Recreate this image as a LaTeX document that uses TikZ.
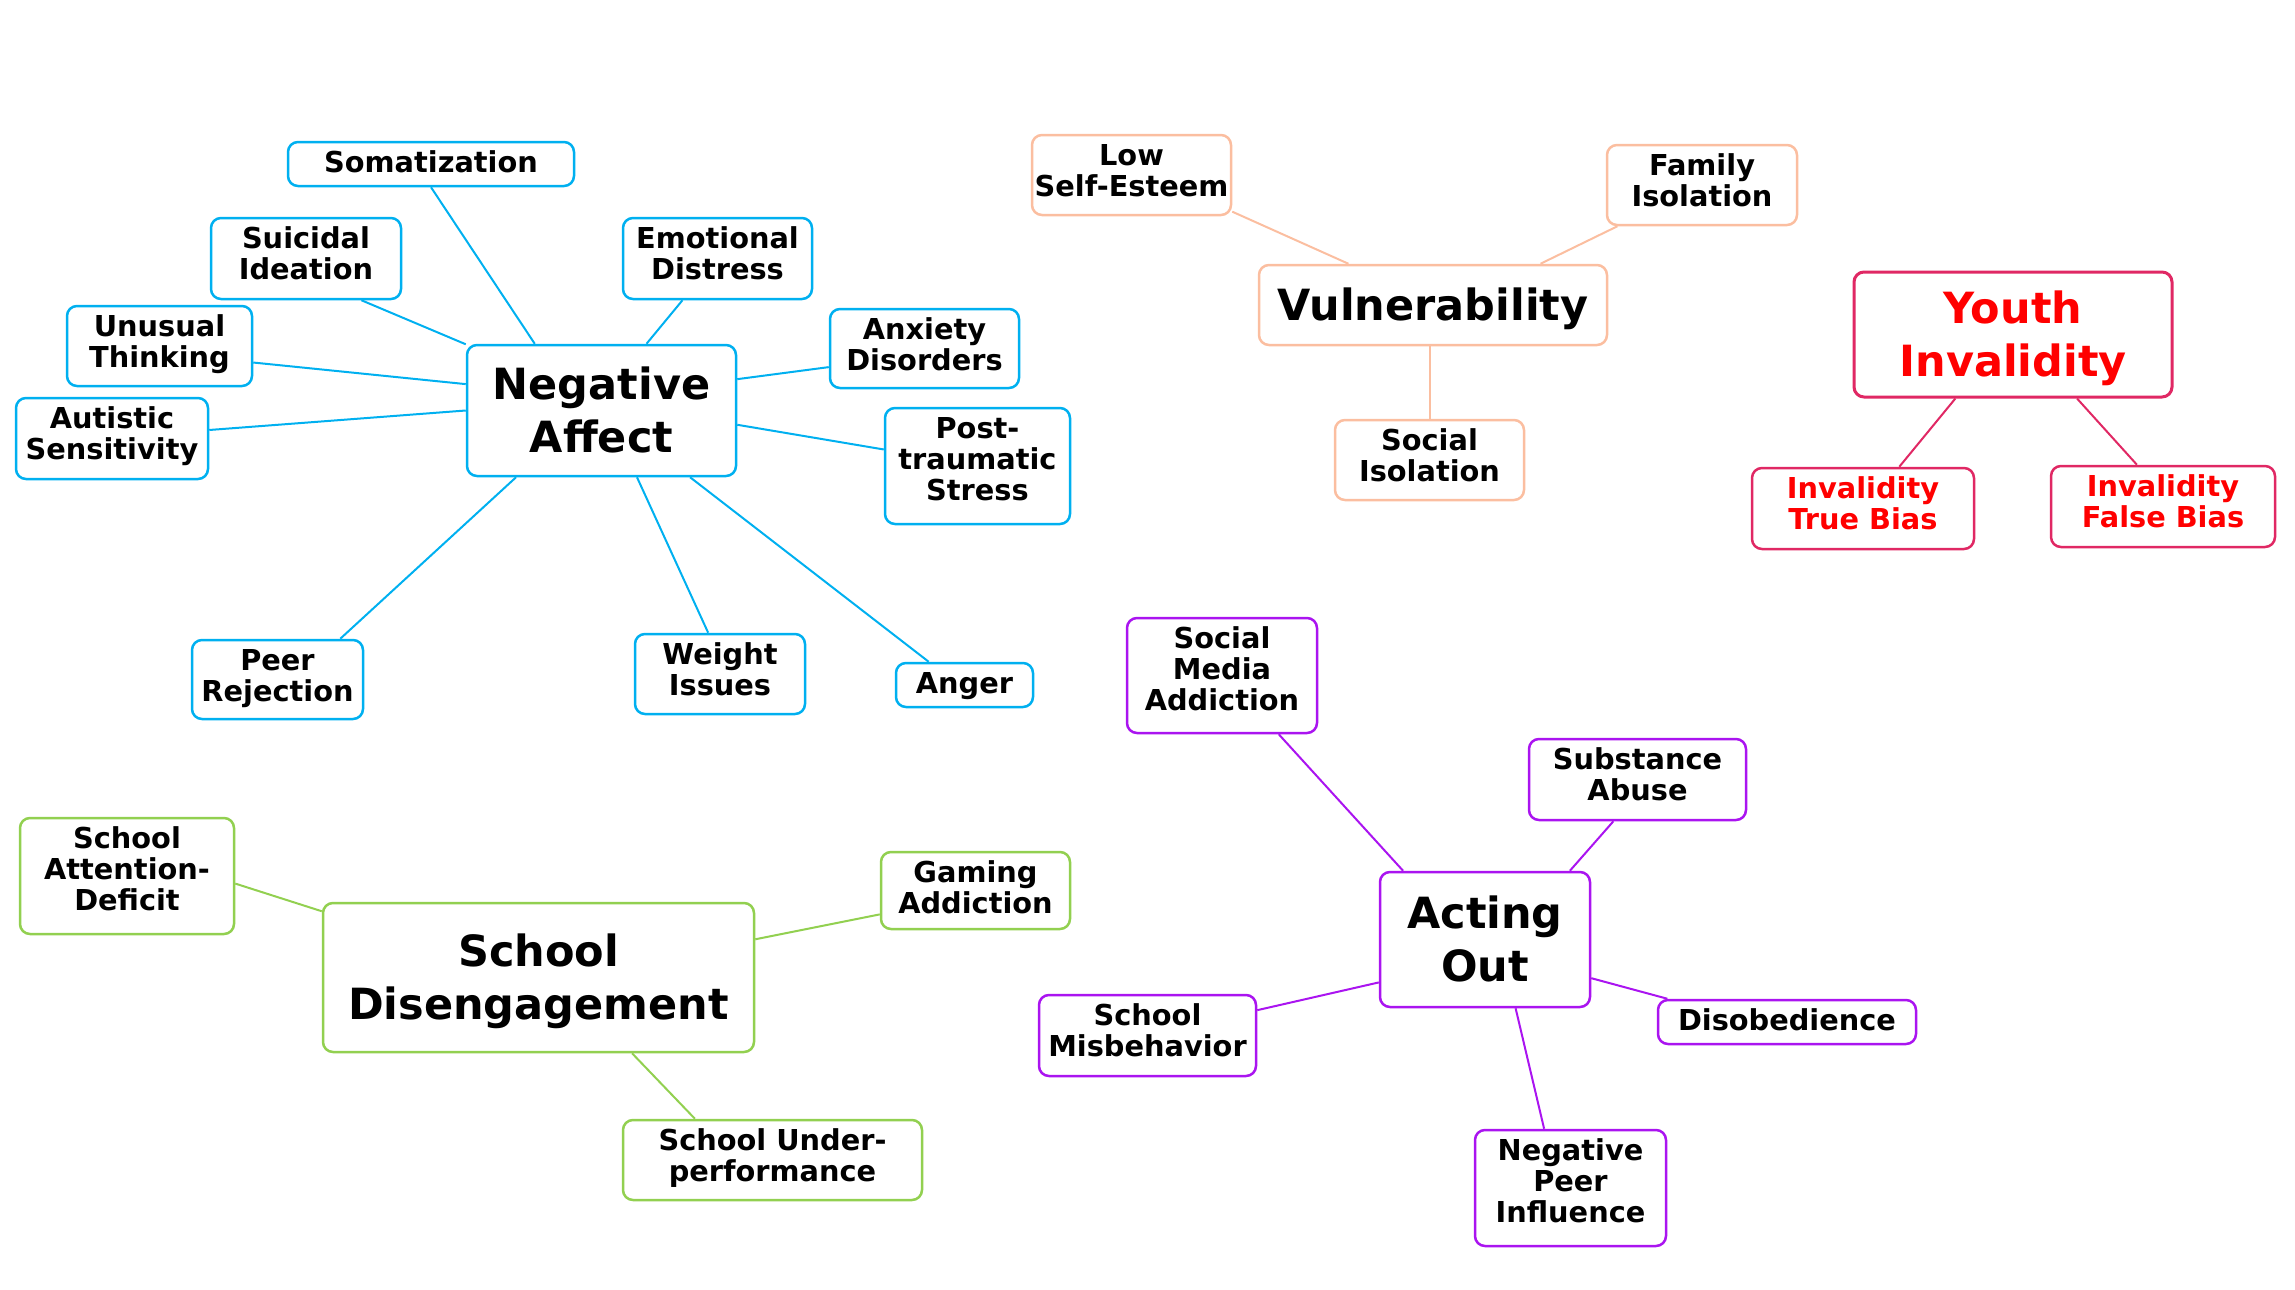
\documentclass[tikz,border=0pt]{standalone}
\usepackage{fontspec}
\setmainfont{DejaVu Sans}
\definecolor{blueC}{RGB}{0,176,240}
\definecolor{salC}{RGB}{251,190,160}
\definecolor{crimC}{RGB}{224,40,100}
\definecolor{redT}{RGB}{255,0,0}
\definecolor{purC}{RGB}{170,20,240}
\definecolor{greC}{RGB}{146,208,80}
% line struts: fixed first-line height and last-line depth
\newcommand{\topS}{\rule{0pt}{23pt}}
\newcommand{\botD}[1]{\rule[-#1pt]{0pt}{#1pt}}
\newcommand{\hubT}{\rule{0pt}{45pt}}
\newcommand{\hubB}{\rule[-14pt]{0pt}{14pt}}
\tikzset{
  box/.style={draw, rounded corners=10pt, line width=2.5pt, fill=white, inner sep=0pt, align=center,
    font=\fontsize{28.8pt}{31pt}\selectfont\bfseries},
  hub/.style={box, font=\fontsize{43pt}{53pt}\selectfont\bfseries},
  wh/.style 2 args={minimum width=#1pt, minimum height=#2pt},
  bl/.style={box, draw=blueC}, bledge/.style={draw=blueC, line width=2pt},
  sa/.style={box, draw=salC}, saedge/.style={draw=salC, line width=2pt},
  yi/.style={box, draw=crimC, text=redT}, yiedge/.style={draw=crimC, line width=2pt},
  pu/.style={box, draw=purC}, puedge/.style={draw=purC, line width=2pt},
  gr/.style={box, draw=greC}, gredge/.style={draw=greC, line width=2pt},
}
\begin{document}
\begin{tikzpicture}[x=1pt,y=-1pt]
\useasboundingbox (0,0) rectangle (2295,1290);
% --- Negative Affect cluster
\node[bl, hub, wh={269}{131}] (neg) at (601.5,410.5) {\hubT Negative\\Affect\hubB};
\node[bl, wh={286}{44}] (som) at (431,164) {\topS Somatization\botD{7}};
\node[bl, wh={190}{81}] (sui) at (306,258.5) {\topS Suicidal\\Ideation\botD{13}};
\node[bl, wh={189}{81}] (emo) at (717.5,258.5) {\topS Emotional\\Distress\botD{13}};
\node[bl, wh={185}{80}] (unu) at (159.5,346) {\topS Unusual\\Thinking\botD{12}};
\node[bl, wh={189}{79}] (anx) at (924.5,348.5) {\topS Anxiety\\Disorders\botD{11}};
\node[bl, wh={192}{81}] (aut) at (112,438.5) {\topS Autistic\\Sensitivity\botD{13}};
\node[bl, wh={185}{116}] (pts) at (977.5,466) {\topS Post-\\traumatic\\Stress\botD{17}};
\node[bl, wh={171}{79}] (peer) at (277.5,679.5) {\topS Peer\\Rejection\botD{11}};
\node[bl, wh={170}{80}] (wei) at (720,674) {\topS Weight\\Issues\botD{12}};
\node[bl, wh={137}{44}] (ang) at (964.5,685) {\topS Anger\botD{7}};
\draw[bledge] (som.south) -- (neg.135);
\draw[bledge] (sui.-37) -- (neg.154);
\draw[bledge] (emo.230) -- (neg.56);
\draw[bledge] (unu.-10) -- (neg.169);
\draw[bledge] (anx.191) -- (neg.13);
\draw[bledge] (aut.5) -- (neg.west);
\draw[bledge] (pts.170) -- (neg.-6);
\draw[bledge] (peer.33) -- (neg.218);
\draw[bledge] (wei.106) -- (neg.-62);
\draw[bledge] (ang.147) -- (neg.-37);
% --- Vulnerability cluster
\node[sa, hub, wh={348}{80}] (vul) at (1433,305) {\hubT Vulnerability\hubB};
\node[sa, wh={199}{80}] (low) at (1131.5,175) {\topS Low\\Self-Esteem\botD{12}};
\node[sa, wh={190}{80}] (fam) at (1702,185) {\topS Family\\Isolation\botD{12}};
\node[sa, wh={189}{80}] (soc) at (1429.5,460) {\topS Social\\Isolation\botD{12}};
\draw[saedge] (low.-20) -- (vul.154);
\draw[saedge] (fam.206) -- (vul.21);
\draw[saedge] (soc.north) -- (soc.north |- vul.south);
% --- Youth Invalidity
\node[yi, hub, wh={318}{125}, line width=3pt] (yth) at (2013,334.5) {\hubT Youth\\Invalidity\hubB};
\node[yi, wh={222}{81}] (tru) at (1863,508.5) {\topS Invalidity\\True Bias\botD{13}};
\node[yi, wh={224}{81}] (fal) at (2163,506.5) {\topS Invalidity\\False Bias\botD{13}};
\draw[yiedge] (tru.49) -- (yth.228);
\draw[yiedge] (fal.122) -- (yth.-45);
% --- Acting Out
\node[pu, hub, wh={210}{135}] (act) at (1485,939.5) {\hubT Acting\\Out\hubB};
\node[pu, wh={190}{115}] (smd) at (1222,675.5) {\topS Social\\Media\\Addiction\botD{16}};
\node[pu, wh={217}{81}] (sub) at (1637.5,779.5) {\topS Substance\\Abuse\botD{13}};
\node[pu, wh={217}{81}] (smb) at (1147.5,1035.5) {\topS School\\Misbehavior\botD{13}};
\node[pu, wh={258}{44}] (dis) at (1787,1022) {\topS Disobedience\botD{7}};
\node[pu, wh={191}{116}] (npi) at (1570.5,1188) {\topS Negative\\Peer\\Influence\botD{17}};
\draw[puedge] (smd.-46) -- (act.140);
\draw[puedge] (sub.240) -- (act.39);
\draw[puedge] (smb.13) -- (act.202);
\draw[puedge] (dis.169) -- (act.-20);
\draw[puedge] (npi.114) -- (act.-66);
% --- School Disengagement
\node[gr, hub, wh={431}{149}] (sde) at (538.5,977.5) {\hubT School\\Disengagement\hubB};
\node[gr, wh={214}{116}] (sad) at (127,876) {\topS School\\Attention-\\Deficit\botD{17}};
\node[gr, wh={189}{77}] (gam) at (975.5,890.5) {\topS Gaming\\Addiction\botD{9}};
\node[gr, wh={299}{80}] (sun) at (772.5,1160) {\topS School Under-\\performance\botD{12}};
\draw[gredge] (sad.-4) -- (sde.163);
\draw[gredge] (gam.194) -- (sde.10);
\draw[gredge] (sun.152) -- (sde.-39);
\end{tikzpicture}
\end{document}
